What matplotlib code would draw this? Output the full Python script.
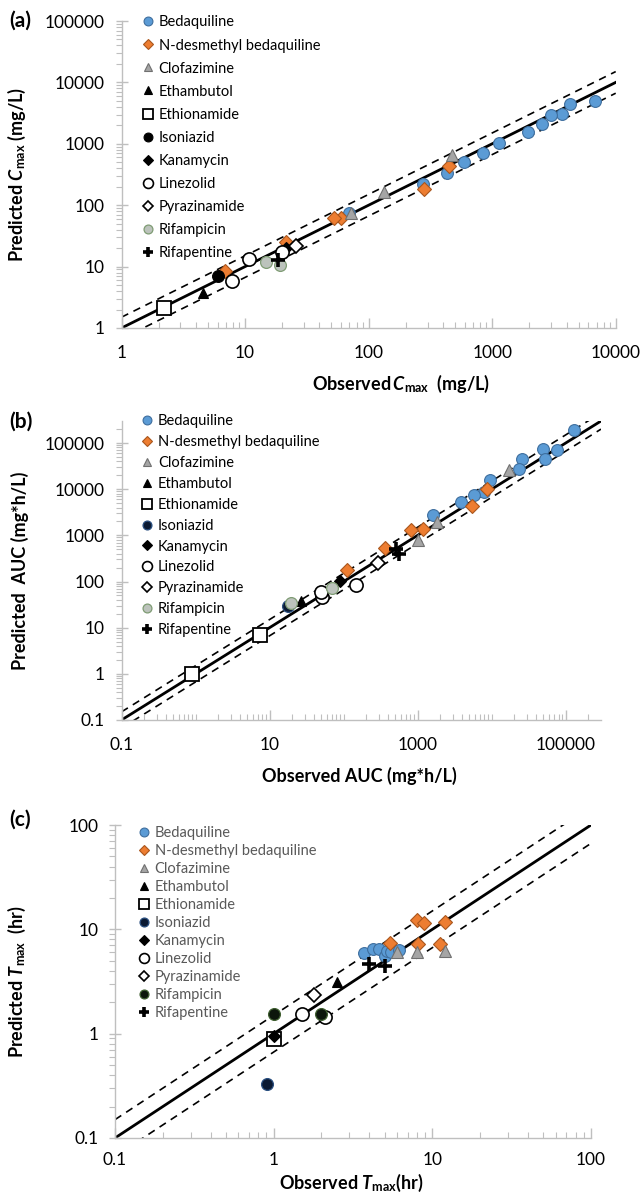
import numpy as np
import matplotlib
matplotlib.use("Agg")
import matplotlib.pyplot as plt
from matplotlib.ticker import FixedLocator, FuncFormatter, NullFormatter

plt.rcParams['font.family'] = ['Lato', 'DejaVu Sans']
plt.rcParams['mathtext.fontset'] = 'custom'
plt.rcParams['mathtext.rm'] = 'Lato'
plt.rcParams['mathtext.it'] = 'Lato:italic'
plt.rcParams['mathtext.bf'] = 'Lato:bold'
plt.rcParams['mathtext.bfit'] = 'Lato:italic:bold'

drugs = ["Bedaquiline", "N-desmethyl bedaquiline", "Clofazimine", "Ethambutol",
         "Ethionamide", "Isoniazid", "Kanamycin", "Linezolid", "Pyrazinamide",
         "Rifampicin", "Rifapentine"]

# (a) Cmax, mg/L : observed / predicted
a_bdq_obs = [6800, 4300, 3700, 3000, 2550, 1950, 1130, 850, 590, 435, 275, 70]
a_bdq_pred = [5000, 4450, 3100, 2900, 2100, 1550, 1040, 710, 505, 335, 222, 75]
a_ndb_obs = [445, 280, 60, 52, 21.5, 6.9]
a_ndb_pred = [435, 183, 62, 63, 25, 8.5]
a_clz_obs = [475, 134, 72]
a_clz_pred = [660, 166, 75]
a_emb_obs, a_emb_pred = [4.6], [3.7]
a_eto_obs, a_eto_pred = [2.2], [2.1]
a_inh_obs, a_inh_pred = [6.0], [7.0]
a_kan_obs, a_kan_pred = [21.4], [20]
a_lzd_obs, a_lzd_pred = [10.8, 7.8, 20], [13.5, 5.8, 17.5]
a_pza_obs, a_pza_pred = [25.9], [21.5]
a_rif_obs, a_rif_pred = [14.9, 19.2], [11.9, 10.5]
a_rpt_obs, a_rpt_pred = [18.5], [13]

# (b) AUC, mg*h/L
b_bdq_obs = [129000, 76000, 49000, 52000, 26000, 23600, 9400, 7900, 5800, 3900, 1600]
b_bdq_pred = [189000, 69000, 74000, 44000, 44000, 27000, 16000, 8900, 7600, 5300, 2700]
b_ndb_obs = [8700, 5400, 1170, 810, 360, 110]
b_ndb_pred = [10200, 4300, 1400, 1280, 520, 180]
b_clz_obs = [17000, 1800, 1000]
b_clz_pred = [26000, 1900, 790]
b_emb_obs, b_emb_pred = [27], [37]
b_eto_obs, b_eto_pred = [7.5, 0.91], [7.0, 0.98]
b_inh_obs, b_inh_pred = [18], [29]
b_kan_obs, b_kan_pred = [89], [105]
b_lzd_obs, b_lzd_pred = [145, 51, 49], [85, 47, 60]
b_pza_obs, b_pza_pred = [296], [257]
b_rif_obs, b_rif_pred = [19.5, 69], [34, 74]
b_rpt_obs, b_rpt_pred = [510, 560], [500, 400]

# (c) Tmax, hr
c_bdq_obs = [3.7, 4.2, 4.6, 5.0, 5.2, 5.5, 6.2]
c_bdq_pred = [5.9, 6.5, 6.5, 5.6, 6.2, 6.0, 6.4]
c_ndb_obs = [8.0, 8.9, 12, 5.4, 8.1, 11.1]
c_ndb_pred = [12.2, 11.6, 11.8, 7.4, 7.3, 7.3]
c_clz_obs = [6.0, 8.0, 12.1]
c_clz_pred = [6.1, 6.1, 6.2]
c_emb_obs, c_emb_pred = [2.5], [3.1]
c_eto_obs, c_eto_pred = [1.0], [0.88]
c_inh_obs, c_inh_pred = [0.91], [0.33]
c_kan_obs, c_kan_pred = [1.0], [0.95]
c_lzd_obs, c_lzd_pred = [1.5, 2.1], [1.56, 1.43]
c_pza_obs, c_pza_pred = [1.8], [2.35]
c_rif_obs, c_rif_pred = [1.0, 2.0], [1.55, 1.55]
c_rpt_obs, c_rpt_pred = [4.0, 5.0], [4.65, 4.5]

panel_a = [(a_bdq_obs, a_bdq_pred), (a_ndb_obs, a_ndb_pred), (a_clz_obs, a_clz_pred),
           (a_emb_obs, a_emb_pred), (a_eto_obs, a_eto_pred), (a_inh_obs, a_inh_pred),
           (a_kan_obs, a_kan_pred), (a_lzd_obs, a_lzd_pred), (a_pza_obs, a_pza_pred),
           (a_rif_obs, a_rif_pred), (a_rpt_obs, a_rpt_pred)]
panel_b = [(b_bdq_obs, b_bdq_pred), (b_ndb_obs, b_ndb_pred), (b_clz_obs, b_clz_pred),
           (b_emb_obs, b_emb_pred), (b_eto_obs, b_eto_pred), (b_inh_obs, b_inh_pred),
           (b_kan_obs, b_kan_pred), (b_lzd_obs, b_lzd_pred), (b_pza_obs, b_pza_pred),
           (b_rif_obs, b_rif_pred), (b_rpt_obs, b_rpt_pred)]
panel_c = [(c_bdq_obs, c_bdq_pred), (c_ndb_obs, c_ndb_pred), (c_clz_obs, c_clz_pred),
           (c_emb_obs, c_emb_pred), (c_eto_obs, c_eto_pred), (c_inh_obs, c_inh_pred),
           (c_kan_obs, c_kan_pred), (c_lzd_obs, c_lzd_pred), (c_pza_obs, c_pza_pred),
           (c_rif_obs, c_rif_pred), (c_rpt_obs, c_rpt_pred)]

# marker, size, face, edge, edge width
base_style = [
    ('o', 8.5, '#5B9BD5', '#3E6E9E', 0.8),
    ('D', 7.0, '#ED7D31', '#A9561D', 0.8),
    ('^', 8.5, '#A5A5A5', '#707070', 0.8),
    ('^', 7.5, 'black', 'black', 0.8),
    ('s', 10, 'white', 'black', 1.3),
    ('o', 8.5, 'black', 'black', 0.8),
    ('D', 6.5, 'black', 'black', 0.8),
    ('o', 9.5, 'white', 'black', 1.2),
    ('D', 7.0, 'white', 'black', 1.2),
    ('o', 8.5, '#BCC3BC', '#7F9C74', 0.9),
    ('+', 10, 'black', 'black', 2.6),
]
navy = ('o', 8.5, '#0B1A33', '#2A4F80', 0.9)
style_b = list(base_style)
style_b[5] = navy
style_c = list(base_style)
style_c[5] = navy
style_c[9] = ('o', 8.5, '#0C160C', '#3F5F30', 0.9)

W, H = 644, 1196
fig = plt.figure(figsize=(W / 100, H / 100), dpi=100)


def rect(left, right, top, bottom):
    return [left / W, 1 - bottom / H, (right - left) / W, (bottom - top) / H]


def fmt(v, _):
    return f"{int(round(v))}" if v >= 1 else f"{v:g}"


def minors(lo, hi):
    out = []
    for e in range(int(np.floor(np.log10(lo))), int(np.ceil(np.log10(hi))) + 1):
        out += [m * 10.0 ** e for m in range(2, 10)]
    return [v for v in out if lo < v < hi]


def panel(box, data, styles, xlim, ylim, xmajor, ymajor, xminor_extra, line_end,
          xlab, ylab, tag, tagpos, leg_anchor, leg_spacing, leg_color,
          xlab_pos, ylab_x, xpad=12):
    ax = fig.add_axes(rect(*box))
    ax.set_xscale('log')
    ax.set_yscale('log')
    ax.set_xlim(xlim)
    ax.set_ylim(ylim)
    ref = np.array([xlim[0], line_end])
    ax.plot(ref, ref, color='black', lw=2.0, zorder=1)
    ax.plot(ref, ref * 1.5, color='black', lw=1.2, ls=(0, (4.5, 3.5)), zorder=1)
    ax.plot(ref, ref / 1.5, color='black', lw=1.2, ls=(0, (4.5, 3.5)), zorder=1)
    for name, (obs, pred), (mk, ms, fc, ec, mew) in zip(drugs, data, styles):
        ax.plot(obs, pred, ls='none', marker=mk, ms=ms, mfc=fc, mec=ec, mew=mew,
                label=name, zorder=3)
    for s in ['top', 'right']:
        ax.spines[s].set_visible(False)
    for s in ['left', 'bottom']:
        ax.spines[s].set_color('#BFBFBF')
        ax.spines[s].set_linewidth(1.0)
    ax.xaxis.set_major_locator(FixedLocator(xmajor))
    ax.yaxis.set_major_locator(FixedLocator(ymajor))
    ax.xaxis.set_major_formatter(FuncFormatter(fmt))
    ax.yaxis.set_major_formatter(FuncFormatter(fmt))
    ax.xaxis.set_minor_locator(FixedLocator(minors(*xlim) + xminor_extra))
    ax.yaxis.set_minor_locator(FixedLocator(minors(*ylim)))
    ax.xaxis.set_minor_formatter(NullFormatter())
    ax.yaxis.set_minor_formatter(NullFormatter())
    ax.tick_params(axis='x', which='major', direction='in', length=7, width=1,
                   color='#BFBFBF', labelsize=12.5, pad=xpad)
    ax.tick_params(axis='x', which='minor', direction='in', length=4, width=0.8,
                   color='#BFBFBF')
    ax.tick_params(axis='y', which='major', direction='inout', length=8, width=1,
                   color='#BFBFBF', labelsize=12.5, pad=8)
    ax.tick_params(axis='y', which='minor', direction='out', length=4, width=0.8,
                   color='#BFBFBF')
    ax.set_xlabel(xlab, fontsize=13, fontweight='bold')
    ax.set_ylabel(ylab, fontsize=13, fontweight='bold')
    ax.xaxis.set_label_coords(*xlab_pos)
    ax.yaxis.set_label_coords(ylab_x, 0.5)
    leg = ax.legend(loc='upper left', bbox_to_anchor=leg_anchor, frameon=False,
                    fontsize=10.5, handlelength=0.8, handletextpad=0.35,
                    borderpad=0, borderaxespad=0, labelspacing=leg_spacing,
                    markerscale=0.75)
    for t in leg.get_texts():
        t.set_color(leg_color)
    fig.text(tagpos[0] / W, 1 - tagpos[1] / H, tag, fontsize=15, fontweight='bold',
             ha='left', va='center')
    return ax


panel((121.5, 615.7, 21, 328), panel_a, base_style, (1, 10000), (1, 100000),
      [1, 10, 100, 1000, 10000], [1, 10, 100, 1000, 10000, 100000], [], 10000,
      r'Observed$\,\mathbfit{C}_{\mathbf{max}}$  (mg/L)',
      r'Predicted $\mathbfit{C}_{\mathbf{max}}$ (mg/L)',
      '(a)', (9, 21), (0.041, 1.018), 0.62, 'black', (0.566, -0.145), -0.19)

panel((121.5, 601, 421, 720), panel_b, style_b, (0.1, 300000), (0.1, 300000),
      [0.1, 10, 1000, 100000], [0.1, 1, 10, 100, 1000, 10000, 100000],
      [1, 100, 10000], 300000,
      'Observed AUC (mg*h/L)', 'Predicted  AUC (mg*h/L)',
      '(b)', (9, 422), (0.041, 1.022), 0.47, 'black', (0.497, -0.158), -0.193)

panel((115, 591, 825, 1138), panel_c, style_c, (0.1, 100), (0.1, 100),
      [0.1, 1, 10, 100], [0.1, 1, 10, 100], [], 100,
      r'Observed $\mathbfit{T}_{\mathbf{max}}$(hr)',
      r'Predicted $\mathbfit{T}_{\mathbf{max}}$  (hr)',
      '(c)', (9, 820), (0.048, 0.998), 0.28, '#595959', (0.497, -0.108), -0.182,
      xpad=10)

fig.savefig('out.png', dpi=100)
